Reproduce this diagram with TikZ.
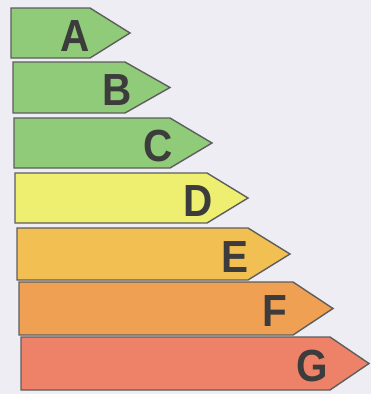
\documentclass[tikz,border=0pt]{standalone}
\usepackage{fontspec}
\usepackage{xcolor}
\usepackage{tikz}
\usetikzlibrary{calc}
\setsansfont{Liberation Sans}

\definecolor{bgcol}{HTML}{EEEDF3}
\definecolor{classA}{HTML}{8FCB78}
\definecolor{classB}{HTML}{8FCB78}
\definecolor{classC}{HTML}{8FCB78}
\definecolor{classD}{HTML}{EEEE70}
\definecolor{classE}{HTML}{F2C052}
\definecolor{classF}{HTML}{F0A052}
\definecolor{classG}{HTML}{EE8268}
\definecolor{edgecol}{HTML}{5E5E5E}
\definecolor{lettercol}{HTML}{3C3C3C}

\tikzset{
	classbar/.style={draw=edgecol, line width=1.4pt, line join=miter},
	classletter/.style={text=lettercol, inner sep=0pt, xscale=0.9,
		font=\sffamily\bfseries\fontsize{45}{45}\selectfont}
}

\begin{document}
\begin{tikzpicture}[x=1pt, y=-1pt]
		\fill[bgcol] (0,0) rectangle (371,394);
		\useasboundingbox (0,0) rectangle (371,394);
		% letter / left / top / bottom / end of body / tip / letter x
		\foreach \l/\xl/\yt/\yb/\xb/\xt/\xc in {
			A/11/8/58/90/130/75,
			B/13/62/113/125/170/117,
			C/14/118/168/170/212/158,
			D/15/173/223/207/248/198,
			E/17/228/280/248/290/235,
			F/19/282/335/293/333/275,
			G/21/337/390/330/369/312}
		{
			\draw[classbar, fill=class\l] (\xl,\yt) -- (\xb,\yt) -- (\xt,{(\yt+\yb)/2})
				-- (\xb,\yb) -- (\xl,\yb) -- cycle;
			\node[classletter] (lbl\l) at (\xc,{(\yt+\yb)/2+3}) {\l};
		}
	\end{tikzpicture}
\end{document}
